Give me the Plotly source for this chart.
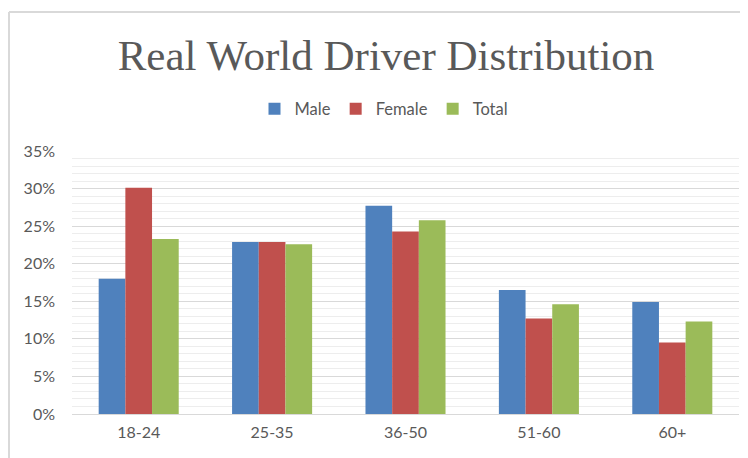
import plotly.graph_objects as go

# Age bands and share of drivers per group
age_groups = ['18-24', '25-35', '36-50', '51-60', '60+']
male = [0.180, 0.229, 0.277, 0.165, 0.149]
female = [0.301, 0.229, 0.243, 0.127, 0.095]
total = [0.233, 0.226, 0.258, 0.146, 0.123]

series = [
    ('Male', male, '#4F81BD'),
    ('Female', female, '#C0504D'),
    ('Total', total, '#9BBB59'),
]

# page body has an 8px margin, so the figure is 8px smaller than the window
W, H = 740, 450
L, R, T, B = 64, 9, 143, 44

fig = go.Figure()
for name, vals, color in series:
    fig.add_trace(go.Bar(
        name=name,
        x=age_groups,
        y=vals,
        marker=dict(color=color, line=dict(width=0)),
    ))

# Excel-style chart border (top and left edges visible)
px = lambda x: (x - L) / (W - L - R)
py = lambda y: (H - B - y) / (H - T - B)
fig.add_shape(type='line', xref='paper', yref='paper',
              x0=px(1), x1=px(760), y0=py(4), y1=py(4),
              line=dict(color='#d9d9d9', width=2))
fig.add_shape(type='line', xref='paper', yref='paper',
              x0=px(1), x1=px(1), y0=py(4), y1=py(470),
              line=dict(color='#d9d9d9', width=2))

fig.update_layout(
    width=W, height=H,
    margin=dict(l=L, r=R, t=T, b=B),
    paper_bgcolor='white',
    plot_bgcolor='white',
    barmode='group',
    bargap=0.4,
    bargroupgap=0,
    title=dict(
        text='Real World Driver Distribution',
        font=dict(family='Liberation Serif', size=43, color='#595959'),
        xref='container', x=378 / W, xanchor='center',
        yref='container', y=1 - 47 / H, yanchor='middle',
    ),
    legend=dict(
        orientation='h',
        xref='container', x=376 / W, xanchor='center',
        yref='container', y=1 - 101 / H, yanchor='middle',
        font=dict(family='Lato', size=16.5, color='#595959'),
        itemwidth=30,
        traceorder='normal',
    ),
    font=dict(family='Lato', size=16, color='#595959'),
    xaxis=dict(
        showline=True, linecolor='#d9d9d9', linewidth=1,
        ticks='', ticklabelstandoff=4,
        tickfont=dict(size=16, color='#595959'),
        showgrid=False,
    ),
    yaxis=dict(
        range=[0, 0.35],
        dtick=0.05,
        tickformat='.0%',
        showgrid=True, gridcolor='#d9d9d9', gridwidth=1,
        zeroline=False,
        ticks='', ticklabelstandoff=16,
        tickfont=dict(size=16, color='#595959'),
        minor=dict(dtick=0.01, showgrid=True, gridcolor='#ededed', gridwidth=1),
    ),
)

fig.write_html('out.html')
